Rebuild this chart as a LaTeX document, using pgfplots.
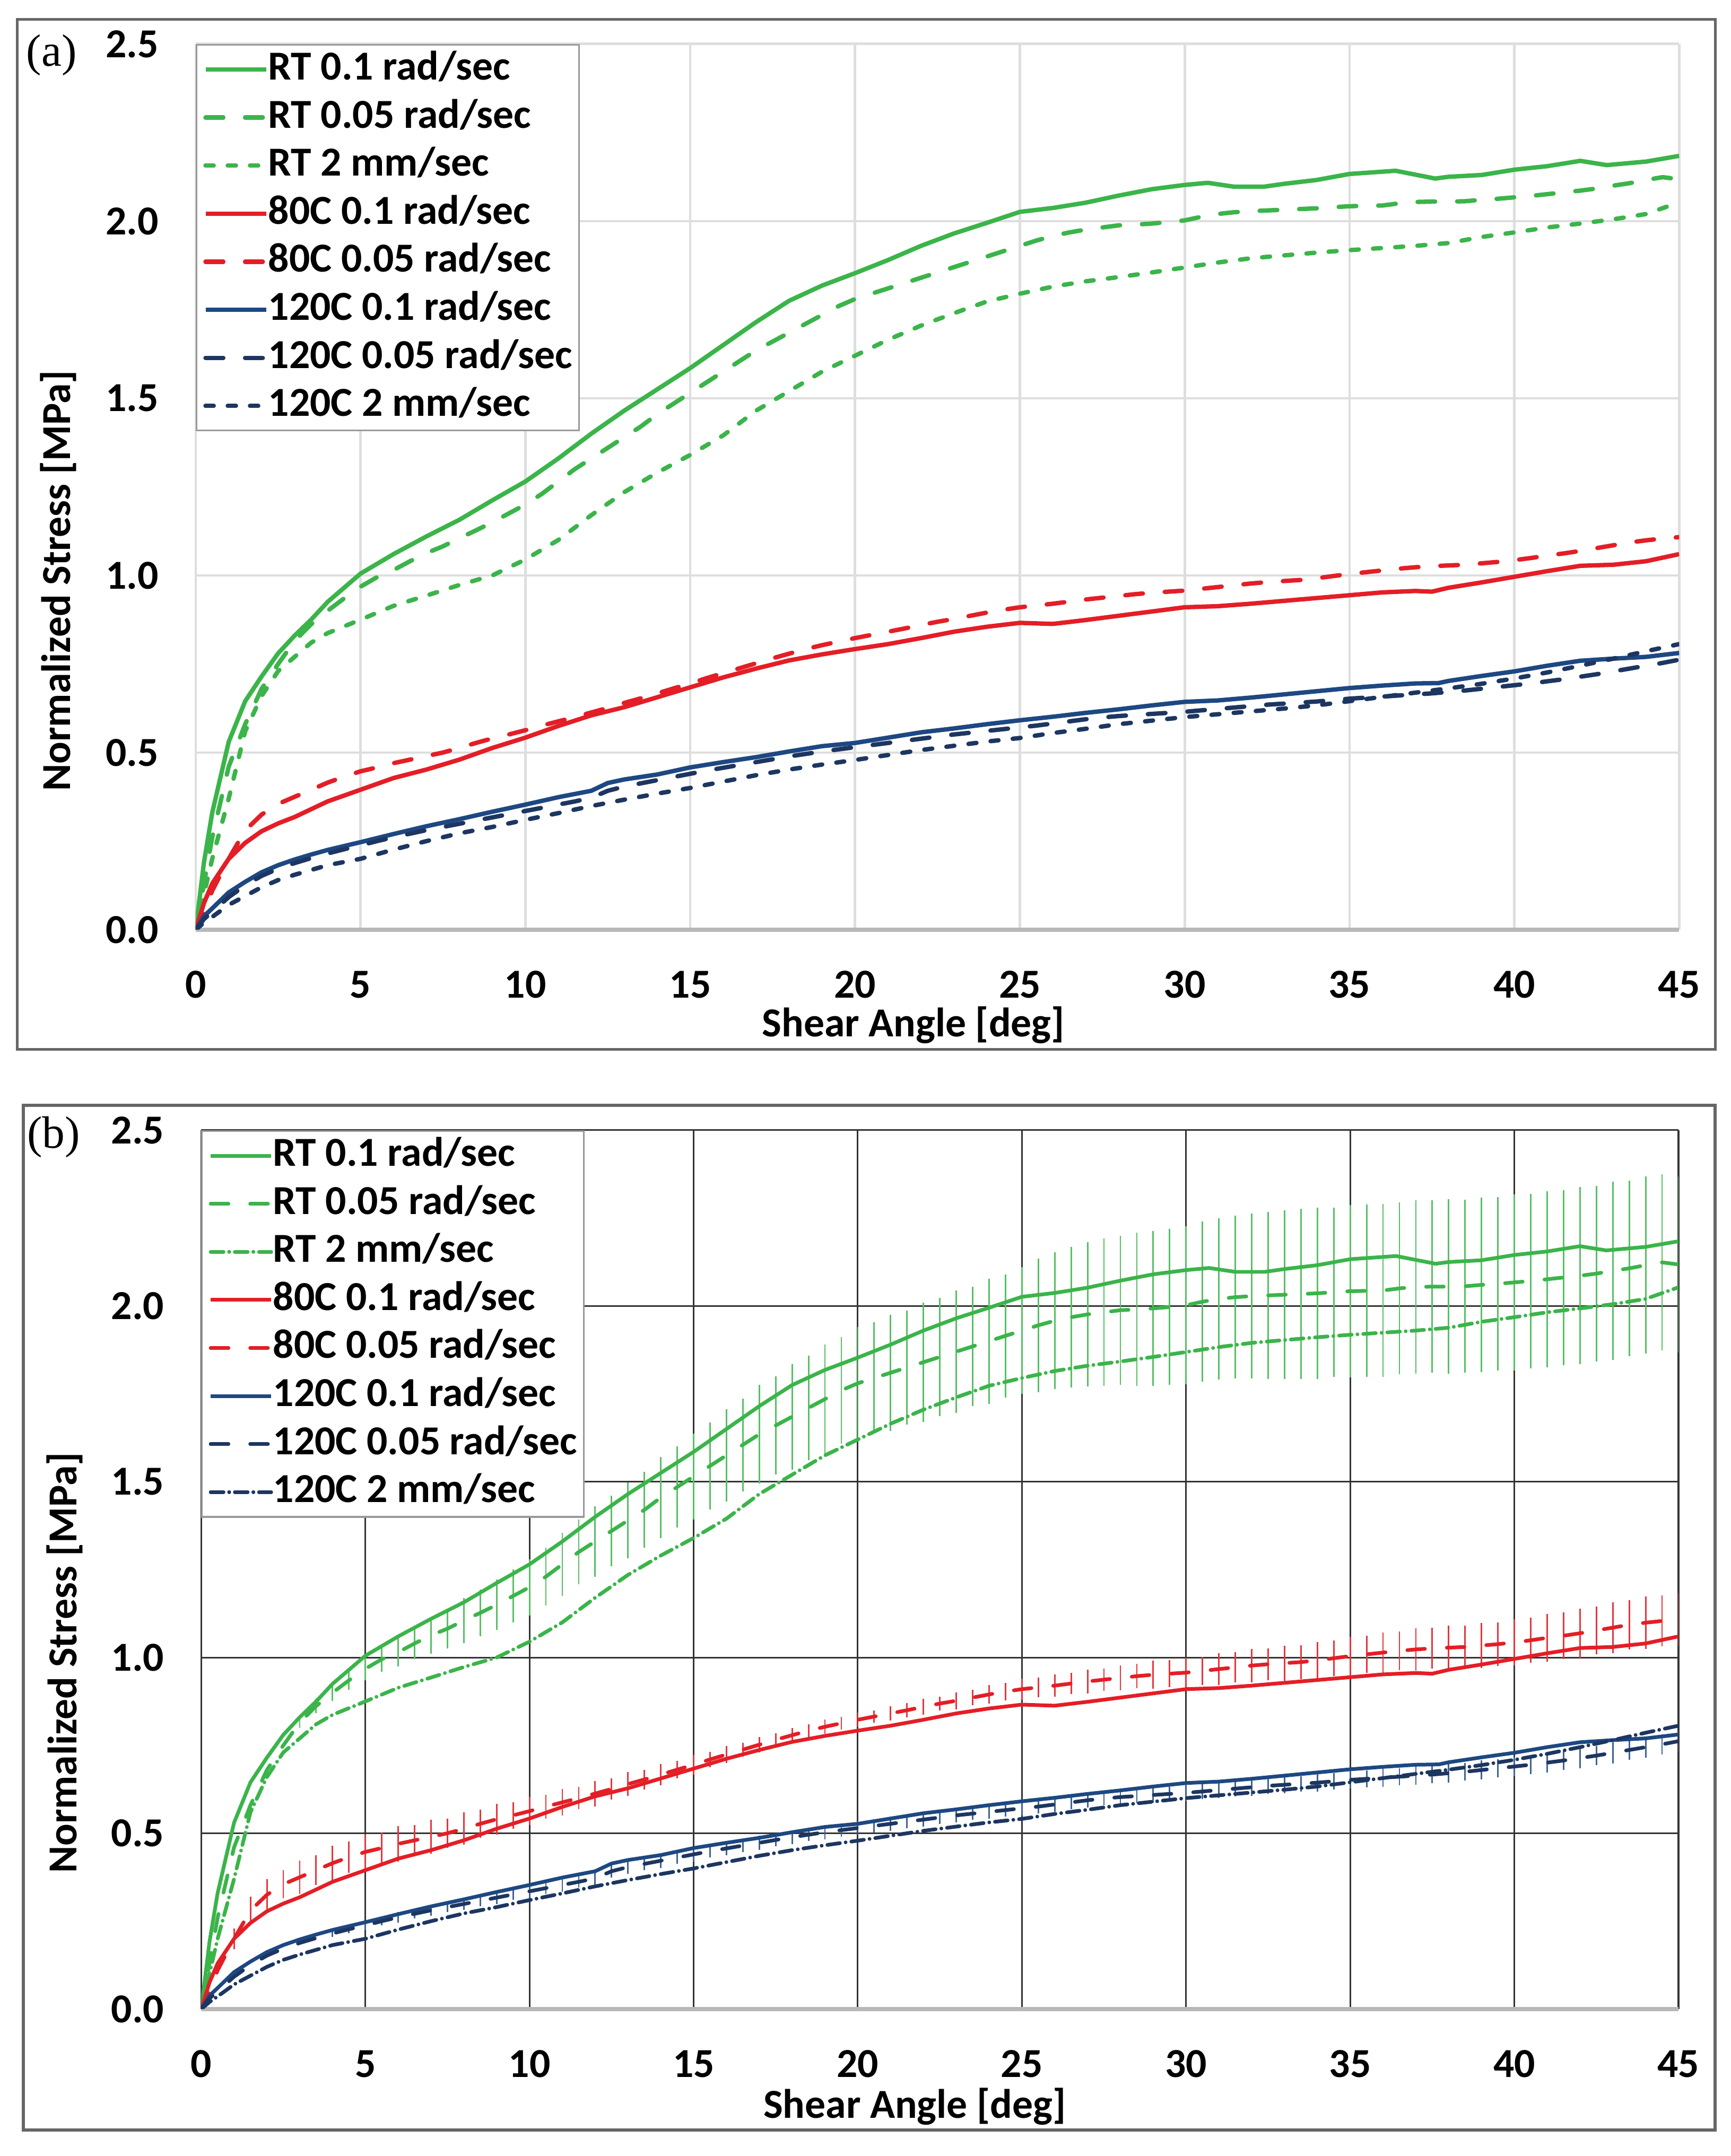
\documentclass[border=0pt]{standalone}
\usepackage{pgfplots}
\pgfplotsset{compat=1.18}
\usepackage{pgfplotstable}
\usepackage{fontspec}
\setmainfont{Carlito}
\newfontfamily\timesf{Liberation Serif}
\definecolor{cg}{RGB}{59,180,74}
\definecolor{cr}{RGB}{228,30,38}
\definecolor{cb}{RGB}{29,72,130}
\definecolor{cn}{RGB}{29,54,97}

% RT 0.1 rad/sec
\pgfplotstableread{
x y
0 0
0.25 0.19
0.5 0.33
1 0.53
1.5 0.645
2 0.715
2.5 0.78
3 0.83
3.5 0.875
4 0.925
5 1.005
6 1.06
7 1.11
8 1.157
9 1.212
10 1.265
11 1.33
12 1.40
13 1.465
14 1.525
15 1.585
16 1.65
17 1.715
18 1.775
19 1.818
20 1.853
21 1.89
22 1.93
23 1.965
24 1.995
25 2.026
26 2.037
27 2.052
28 2.072
29 2.09
30 2.102
30.7 2.108
31.5 2.097
32.4 2.097
33 2.105
34 2.116
35 2.133
36.4 2.142
37.6 2.12
38 2.125
39 2.13
40 2.145
41 2.155
42 2.17
42.8 2.158
44 2.168
45 2.184
}\rtA

% RT 0.05 rad/sec (with error)
\pgfplotstableread{
x y e
0 0 0
0.25 0.13 0
0.5 0.26 0
1 0.46 0
1.5 0.58 0
2 0.68 0
2.5 0.75 0
3 0.815 0.015
3.5 0.862 0.02
4 0.90 0.024
4.5 0.935 0.027
5 0.968 0.032
5.5 0.995 0.036
6 1.015 0.04
6.5 1.04 0.045
7 1.063 0.052
7.5 1.082 0.056
8 1.105 0.064
8.5 1.127 0.066
9 1.15 0.072
9.5 1.175 0.075
10 1.20 0.08
10.5 1.23 0.082
11 1.265 0.09
11.5 1.30 0.092
12 1.33 0.10
12.5 1.36 0.10
13 1.39 0.108
13.5 1.42 0.108
14 1.455 0.115
14.5 1.485 0.115
15 1.515 0.122
15.5 1.545 0.124
16 1.575 0.132
16.5 1.605 0.132
17 1.635 0.14
17.5 1.66 0.14
18 1.685 0.15
18.5 1.71 0.148
19 1.735 0.155
19.5 1.76 0.152
20 1.78 0.16
20.5 1.795 0.158
21 1.81 0.165
21.5 1.825 0.162
22 1.84 0.17
22.5 1.855 0.168
23 1.87 0.174
23.5 1.885 0.17
24 1.90 0.178
24.5 1.915 0.175
25 1.93 0.18
25.5 1.945 0.19
26 1.958 0.195
26.5 1.968 0.2
27 1.976 0.205
27.5 1.982 0.21
28 1.988 0.212
28.5 1.99 0.218
29 1.993 0.22
29.5 1.997 0.222
30 2.002 0.225
30.5 2.012 0.228
31 2.02 0.23
31.5 2.025 0.232
32 2.028 0.235
32.5 2.03 0.238
33 2.032 0.24
33.5 2.034 0.242
34 2.036 0.244
34.5 2.039 0.24
35 2.042 0.245
35.5 2.043 0.245
36 2.044 0.246
36.5 2.05 0.244
37 2.054 0.247
37.5 2.055 0.245
38 2.055 0.248
38.5 2.056 0.246
39 2.06 0.248
39.5 2.063 0.247
40 2.067 0.25
40.5 2.071 0.248
41 2.076 0.25
41.5 2.081 0.249
42 2.086 0.252
42.5 2.092 0.25
43 2.10 0.253
43.5 2.107 0.25
44 2.116 0.252
44.5 2.124 0.25
45 2.118 0.25
}\rtB

% RT 2 mm/sec
\pgfplotstableread{
x y
0 0
0.25 0.1
0.5 0.2
1 0.37
1.5 0.56
2 0.66
2.5 0.73
3 0.77
3.5 0.81
4 0.837
5 0.875
6 0.914
7 0.943
8 0.973
9 1.0
10 1.045
11 1.10
12 1.17
13 1.235
14 1.29
15 1.34
16 1.395
17 1.465
18 1.52
19 1.575
20 1.62
21 1.665
22 1.705
23 1.74
24 1.773
25 1.795
26 1.815
27 1.83
28 1.842
29 1.855
30 1.869
31 1.883
32 1.895
33 1.903
34 1.911
35 1.918
36 1.924
37 1.93
38 1.938
39 1.955
40 1.968
41 1.982
42 1.993
43 2.005
44 2.02
45 2.053
}\rtC

% 80C 0.1 rad/sec
\pgfplotstableread{
x y
0 0
0.25 0.075
0.5 0.13
1 0.2
1.5 0.245
2 0.278
2.5 0.3
3 0.318
4 0.362
5 0.395
6 0.428
7 0.452
8 0.48
9 0.513
10 0.542
11 0.575
12 0.605
13 0.628
14 0.656
15 0.684
16 0.712
17 0.737
18 0.76
19 0.777
20 0.792
21 0.806
22 0.823
23 0.841
24 0.855
25 0.866
26 0.863
27 0.874
28 0.886
29 0.898
30 0.91
31 0.913
32 0.92
33 0.928
34 0.936
35 0.944
36 0.952
37 0.956
37.5 0.954
38 0.965
39 0.98
40 0.996
41 1.012
42 1.027
43 1.03
44 1.04
45 1.06
}\rA

% 80C 0.05 rad/sec (with error)
\pgfplotstableread{
x y e
0 0 0
0.25 0.05 0
0.5 0.11 0
1 0.2 0.03
1.5 0.28 0.04
2 0.325 0.045
2.5 0.355 0.04
3 0.375 0.048
3.5 0.395 0.042
4 0.415 0.05
4.5 0.432 0.044
5 0.447 0.05
5.5 0.458 0.045
6 0.47 0.05
6.5 0.48 0.044
7 0.49 0.048
7.5 0.50 0.042
8 0.513 0.046
8.5 0.527 0.04
9 0.54 0.044
9.5 0.551 0.038
10 0.563 0.04
10.5 0.576 0.034
11 0.588 0.038
11.5 0.6 0.032
12 0.613 0.036
12.5 0.626 0.03
13 0.64 0.034
13.5 0.653 0.028
14 0.667 0.03
14.5 0.681 0.025
15 0.695 0.028
15.5 0.71 0.022
16 0.724 0.024
16.5 0.738 0.02
17 0.752 0.022
17.5 0.766 0.018
18 0.779 0.02
18.5 0.792 0.018
19 0.803 0.02
19.5 0.813 0.018
20 0.823 0.02
20.5 0.832 0.018
21 0.841 0.02
21.5 0.85 0.02
22 0.86 0.022
22.5 0.869 0.02
23 0.877 0.024
23.5 0.886 0.022
24 0.895 0.026
24.5 0.903 0.025
25 0.91 0.03
25.5 0.915 0.028
26 0.92 0.032
26.5 0.926 0.03
27 0.932 0.034
27.5 0.937 0.032
28 0.942 0.036
28.5 0.947 0.035
29 0.951 0.04
29.5 0.954 0.038
30 0.957 0.042
30.5 0.962 0.04
31 0.967 0.045
31.5 0.972 0.043
32 0.977 0.047
32.5 0.981 0.045
33 0.984 0.05
33.5 0.987 0.048
34 0.992 0.052
34.5 0.998 0.05
35 1.004 0.055
35.5 1.009 0.053
36 1.014 0.057
36.5 1.019 0.055
37 1.023 0.06
37.5 1.026 0.058
38 1.028 0.062
38.5 1.03 0.06
39 1.034 0.064
39.5 1.038 0.062
40 1.043 0.066
40.5 1.049 0.064
41 1.056 0.068
41.5 1.062 0.066
42 1.069 0.07
42.5 1.077 0.068
43 1.085 0.072
43.5 1.093 0.07
44 1.099 0.074
44.5 1.104 0.072
45 1.108 0.075
}\rB

% 120C 0.1 rad/sec
\pgfplotstableread{
x y
0 0
0.25 0.038
0.5 0.06
1 0.105
1.5 0.135
2 0.162
2.5 0.182
3 0.198
3.5 0.212
4 0.225
5 0.247
6 0.27
7 0.292
8 0.312
9 0.333
10 0.353
11 0.374
12 0.392
12.5 0.414
13 0.424
14 0.438
15 0.458
16 0.473
17 0.487
18 0.503
19 0.518
20 0.527
21 0.542
22 0.557
23 0.568
24 0.58
25 0.591
26 0.601
27 0.612
28 0.622
29 0.633
30 0.643
31 0.647
32 0.655
33 0.664
34 0.673
35 0.682
36 0.689
37 0.695
37.7 0.696
38 0.702
39 0.716
40 0.729
41 0.745
42 0.759
43 0.765
44 0.77
45 0.781
}\bA

% 120C 0.05 rad/sec (with error)
\pgfplotstableread{
x y e
0 0 0
0.25 0.03 0
0.5 0.05 0
1 0.092 0
1.5 0.125 0
2 0.152 0
2.5 0.172 0
3 0.188 0
3.5 0.202 0
4 0.215 0.01
4.5 0.227 0.012
5 0.238 0.014
5.5 0.25 0.012
6 0.261 0.015
6.5 0.271 0.013
7 0.281 0.016
7.5 0.29 0.014
8 0.299 0.017
8.5 0.308 0.015
9 0.317 0.018
9.5 0.326 0.016
10 0.335 0.018
10.5 0.344 0.016
11 0.353 0.019
11.5 0.362 0.017
12 0.372 0.02
12.5 0.392 0.018
13 0.404 0.02
13.5 0.413 0.018
14 0.422 0.02
14.5 0.431 0.018
15 0.44 0.02
15.5 0.449 0.018
16 0.457 0.02
16.5 0.465 0.018
17 0.473 0.02
17.5 0.481 0.018
18 0.489 0.02
18.5 0.496 0.018
19 0.503 0.02
19.5 0.509 0.018
20 0.515 0.02
20.5 0.521 0.018
21 0.527 0.02
21.5 0.533 0.018
22 0.539 0.02
22.5 0.545 0.018
23 0.551 0.02
23.5 0.556 0.018
24 0.561 0.02
24.5 0.566 0.018
25 0.571 0.02
25.5 0.576 0.019
26 0.582 0.021
26.5 0.588 0.019
27 0.594 0.021
27.5 0.599 0.02
28 0.603 0.022
28.5 0.606 0.02
29 0.609 0.022
29.5 0.612 0.02
30 0.615 0.023
30.5 0.619 0.021
31 0.623 0.023
31.5 0.627 0.022
32 0.631 0.024
32.5 0.635 0.022
33 0.638 0.024
33.5 0.641 0.022
34 0.644 0.025
34.5 0.648 0.023
35 0.652 0.025
35.5 0.655 0.024
36 0.658 0.026
36.5 0.661 0.024
37 0.664 0.026
37.5 0.667 0.025
38 0.671 0.027
38.5 0.675 0.025
39 0.68 0.027
39.5 0.685 0.026
40 0.69 0.028
40.5 0.695 0.026
41 0.701 0.028
41.5 0.707 0.027
42 0.714 0.029
42.5 0.721 0.027
43 0.729 0.03
43.5 0.737 0.028
44 0.745 0.03
44.5 0.753 0.029
45 0.762 0.03
}\bB

% 120C 2 mm/sec
\pgfplotstableread{
x y
0 0
0.25 0.02
0.5 0.036
1 0.07
1.5 0.095
2 0.12
2.5 0.14
3 0.155
4 0.182
5 0.2
6 0.226
7 0.25
8 0.272
9 0.29
10 0.31
11 0.329
12 0.349
13 0.367
14 0.384
15 0.4
16 0.418
17 0.436
18 0.452
19 0.466
20 0.479
21 0.493
22 0.507
23 0.519
24 0.531
25 0.541
26 0.555
27 0.567
28 0.58
29 0.59
30 0.6
31 0.608
32 0.616
33 0.624
34 0.633
35 0.645
36 0.657
37 0.669
38 0.681
39 0.694
40 0.709
41 0.726
42 0.745
43 0.765
44 0.786
45 0.806
}\bC

\pgfplotsset{
  panel/.style={
    scale only axis, anchor=south west,
    xmin=0, xmax=45, ymin=0, ymax=2.5,
    xtick={0,5,...,45}, ytick={0,0.5,...,2.5},
    major tick length=0pt,
    axis x line*=bottom, axis y line*=left,
    x axis line style={-, draw=black!28, line width=1.6pt},
    y axis line style={-, draw=none},
    grid=major,
    /pgf/number format/assume math mode=true,
    tick label style={font=\bfseries\fontsize{15}{18}\selectfont},
    yticklabel style={xshift=-10pt, /pgf/number format/fixed, /pgf/number format/fixed zerofill, /pgf/number format/precision=1},
    xticklabel style={yshift=-11.5pt},
    label style={font=\bfseries\fontsize{15}{18}\selectfont},
    xlabel={Shear Angle [deg]},
    ylabel={Normalized Stress [MPa]},
    xlabel style={at={(axis description cs:0.4838,-0.108)}, anchor=center},
    ylabel style={at={(axis description cs:-0.0926,0.394)}, anchor=center},
    legend cell align=left,
    legend style={at={(0,1)}, anchor=north west, draw=black!40, line width=0.6pt, fill=white,
      inner xsep=2.5pt, inner ysep=1.25pt, row sep=2pt, column sep=0pt,
      font=\bfseries\fontsize{15}{18}\selectfont,
      nodes={inner xsep=0pt, inner ysep=0pt, text height=11.5pt, text depth=4pt}},
    legend image code/.code={\draw[##1] (0pt,0pt) -- (20pt,0pt); \path (0pt,0pt) -- (22pt,0pt);},
    legend entries={RT 0.1 rad/sec, RT 0.05 rad/sec, RT 2 mm/sec, 80C 0.1 rad/sec, 80C 0.05 rad/sec, 120C 0.1 rad/sec, 120C 0.05 rad/sec, 120C 2 mm/sec},
  },
  sol/.style={line width=#1, solid, line join=round},
  lda/.style={line width=#1, line cap=round, line join=round, dash pattern=on 6.4pt off 8pt},
  sda/.style={line width=#1, line cap=round, line join=round, dash pattern=on 2.9pt off 5.2pt},
  sdb/.style={line width=#1, line cap=round, line join=round, dash pattern=on 4.6pt off 2.1pt on 0pt off 2.1pt},
  ebar/.style={forget plot, draw=none, mark=none, error bars/.cd, y dir=both, y explicit, error mark=none, error bar style={draw=#1, solid, line width=0.55pt}},
}

\begin{document}
\begin{tikzpicture}
\useasboundingbox (0,0) rectangle (630pt,785pt);
\draw[line width=1pt, draw=black!60] (6.2pt,403pt) rectangle (624.5pt,778pt);
\draw[line width=1.1pt, draw=black!60] (8.5pt,9.5pt) rectangle (624.3pt,382.5pt);
\node[font=\timesf\fontsize{16.5}{18}\selectfont] at (18.75pt,765pt) {(a)};
\node[font=\timesf\fontsize{16.5}{18}\selectfont] at (19.5pt,371pt) {(b)};

\begin{axis}[panel, at={(71.25pt,446.5pt)}, width=540pt, height=322.5pt,
  grid style={draw=black!13, line width=0.9pt}]
\addplot[cg, sol=1.6pt] table[x=x,y=y] {\rtA};
\addplot[cg, lda=1.6pt] table[x=x,y=y] {\rtB};
\addplot[cg, sda=1.6pt] table[x=x,y=y] {\rtC};
\addplot[cr, sol=1.6pt] table[x=x,y=y] {\rA};
\addplot[cr, lda=1.6pt] table[x=x,y=y] {\rB};
\addplot[cb, sol=1.6pt] table[x=x,y=y] {\bA};
\addplot[cn, lda=1.6pt] table[x=x,y=y] {\bB};
\addplot[cn, sda=1.6pt] table[x=x,y=y] {\bC};
\end{axis}

\begin{axis}[panel, at={(73.25pt,53.5pt)}, width=537.75pt, height=320pt,
  grid style={draw=black!80, line width=0.6pt},
  ylabel style={at={(axis description cs:-0.0925,0.394)}},
  xlabel style={at={(axis description cs:0.483,-0.111)}}]
\addplot[ebar=cg!85] table[x=x,y=y,y error=e] {\rtB};
\addplot[ebar=cr!90] table[x=x,y=y,y error=e] {\rB};
\addplot[ebar=cb!85] table[x=x,y=y,y error=e] {\bB};
\addplot[cg, sol=1.35pt] table[x=x,y=y] {\rtA};
\addplot[cg, lda=1.35pt] table[x=x,y=y] {\rtB};
\addplot[cg, sdb=1.35pt] table[x=x,y=y] {\rtC};
\addplot[cr, sol=1.35pt] table[x=x,y=y] {\rA};
\addplot[cr, lda=1.35pt] table[x=x,y=y] {\rB};
\addplot[cb, sol=1.35pt] table[x=x,y=y] {\bA};
\addplot[cn, lda=1.35pt] table[x=x,y=y] {\bB};
\addplot[cn, sdb=1.35pt] table[x=x,y=y] {\bC};
\end{axis}
\end{tikzpicture}
\end{document}
